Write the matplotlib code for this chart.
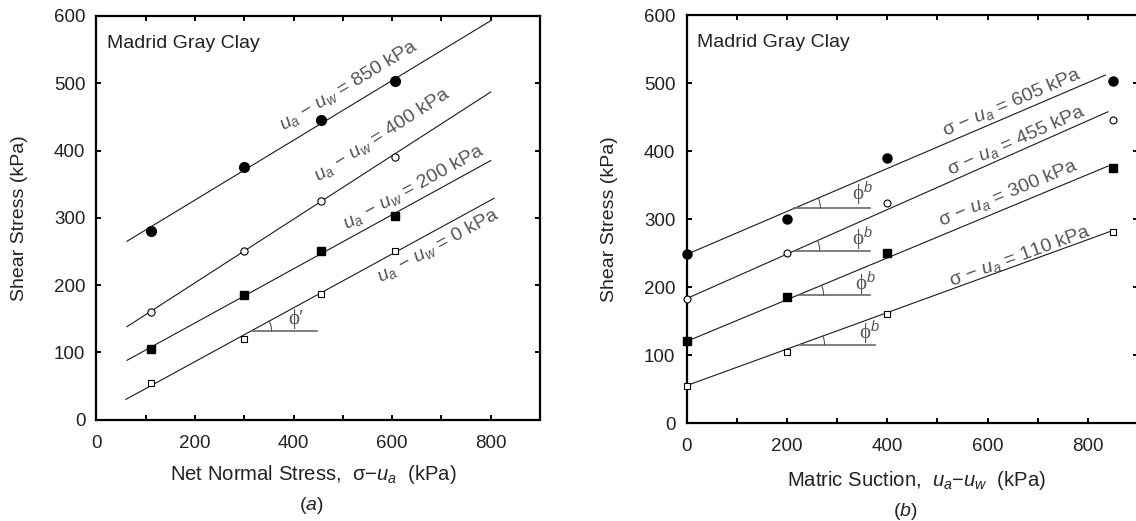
import numpy as np
import matplotlib
matplotlib.use("Agg")
import matplotlib.pyplot as plt

plt.rcParams['font.family'] = ['Liberation Sans', 'DejaVu Sans']
plt.rcParams['mathtext.fontset'] = 'custom'
plt.rcParams['mathtext.rm'] = 'Liberation Sans'
plt.rcParams['mathtext.it'] = 'Liberation Sans:italic'
plt.rcParams['mathtext.bf'] = 'Liberation Sans:bold'

# ---- (a) shear stress vs net normal stress, one series per matric suction ----
net_normal = [110, 300, 455, 605]
tau_suc850 = [281, 375, 446, 503]
tau_suc400 = [160, 250, 325, 391]
tau_suc200 = [105, 185, 250, 302]
tau_suc0 = [55, 120, 187, 250]

# failure envelopes (start/end of each fitted line)
env_a_x = [62, 800]
env_a_x0 = [60, 807]
env_suc850 = [265, 593]
env_suc400 = [138, 487]
env_suc200 = [88, 385]
env_suc0 = [30, 329]

# ---- (b) shear stress vs matric suction, one series per net normal stress ----
suction = [0, 200, 400, 850]
tau_net605 = [248, 300, 390, 504]
tau_net455 = [183, 250, 324, 446]
tau_net300 = [120, 186, 250, 375]
tau_net110 = [55, 105, 160, 281]

env_b_x605 = [0, 835]
env_b_x455 = [0, 840]
env_b_x300 = [0, 840]
env_b_x110 = [0, 845]
env_net605 = [248, 512]
env_net455 = [183, 458]
env_net300 = [120, 378]
env_net110 = [55, 282]

labels_a = ["850", "400", "200", "0"]
labels_b = ["605", "455", "300", "110"]

W, H = 1136, 521
fig = plt.figure(figsize=(W / 100, H / 100), dpi=100)


def px_axes(x0, x1, ytop, ybot):
    return fig.add_axes([x0 / W, (H - ybot) / H, (x1 - x0) / W, (ybot - ytop) / H])


ax_a = px_axes(96.4, 540, 16, 419.5)
ax_b = px_axes(686.5, 1138, 15.3, 423)

TXT = '#222222'
LBL = '#555555'
FS = 14

for ax in (ax_a, ax_b):
    ax.set_xlim(0, 900)
    ax.set_ylim(0, 600)
    ax.set_xticks(np.arange(0, 901, 100))
    ax.set_xticklabels([str(v) if v % 200 == 0 and v < 900 else '' for v in range(0, 901, 100)])
    ax.set_yticks(np.arange(0, 601, 100))
    ax.tick_params(direction='in', length=3.8, width=1.4, top=True, right=True,
                   labelsize=13.5, colors='black', labelcolor=TXT)
    ax.tick_params(axis='x', pad=11)
    ax.tick_params(axis='y', pad=8)
    for s in ax.spines.values():
        s.set_linewidth(1.6)
    ax.set_ylabel('Shear Stress (kPa)', fontsize=FS, color=TXT, ha='center', va='center')
    ax.text(0.024, 0.933, 'Madrid Gray Clay', transform=ax.transAxes, fontsize=FS,
            color=TXT, ha='left', va='center')

ax_a.yaxis.set_label_coords(-0.173, 0.5)
ax_b.yaxis.set_label_coords(-0.170, 0.5)

ax_a.set_xlabel('Net Normal Stress,  σ−$u_a$  (kPa)', fontsize=14.6, color=TXT, va='center')
ax_a.xaxis.set_label_coords(0.49, -0.1375)
ax_b.set_xlabel('Matric Suction,  $u_a$−$u_w$  (kPa)', fontsize=14.6, color=TXT, va='center')
ax_b.xaxis.set_label_coords(0.51, -0.140)

fig.text(311 / W, 1 - 505 / H, '($a$)', fontsize=FS, color=TXT, ha='center', va='center')
fig.text(905.6 / W, 1 - 512 / H, '($b$)', fontsize=FS, color=TXT, ha='center', va='center')


def px_angle(ax, xs, ys):
    p0 = ax.transData.transform((xs[0], ys[0]))
    p1 = ax.transData.transform((xs[1], ys[1]))
    return np.degrees(np.arctan2(p1[1] - p0[1], p1[0] - p0[0]))


def slope_marker(ax, xs, ys, y_h, x_end, r_px, txt, txt_xy):
    # horizontal reference line from the envelope, an arc for the angle and its label
    k = (ys[1] - ys[0]) / (xs[1] - xs[0])
    x_h = xs[0] + (y_h - ys[0]) / k
    ax.plot([x_h, x_end], [y_h, y_h], color='#6a6a6a', lw=1.2, zorder=2)
    ang = np.radians(px_angle(ax, xs, ys))
    c = ax.transData.transform((x_h, y_h))
    t = np.linspace(0, ang, 30)
    pts = np.column_stack([c[0] + r_px * np.cos(t), c[1] + r_px * np.sin(t)])
    dpts = ax.transData.inverted().transform(pts)
    ax.plot(dpts[:, 0], dpts[:, 1], color='#555555', lw=0.8, zorder=2)
    ax.text(txt_xy[0], txt_xy[1], txt, fontsize=15, color=LBL, ha='center', va='center',
            family=['Liberation Serif', 'DejaVu Serif'])


# ---------------- panel (a) ----------------
series_a = [tau_suc850, tau_suc400, tau_suc200, tau_suc0]
envs_a = [(env_a_x, env_suc850), (env_a_x, env_suc400), (env_a_x, env_suc200), (env_a_x0, env_suc0)]
styles = [dict(marker='o', ms=7.0, mfc='black', mec='black'),
          dict(marker='o', ms=5.2, mfc='white', mec='black', mew=0.8),
          dict(marker='s', ms=6.0, mfc='black', mec='black'),
          dict(marker='s', ms=4.8, mfc='white', mec='black', mew=0.8)]
text_a = [(512, 497), (579, 424), (643, 346), (693, 258)]

for ys, (ex, ey), st, lab, tp in zip(series_a, envs_a, styles, labels_a, text_a):
    ax_a.plot(ex, ey, color='#1a1a1a', lw=0.8, zorder=2)
    ax_a.plot(net_normal, ys, ls='none', zorder=3, clip_on=False, **st)
    rot = px_angle(ax_a, ex, ey)
    ax_a.text(tp[0], tp[1], f'$u_a$ − $u_w$ = {lab} kPa', fontsize=FS, color=LBL,
              rotation=rot, rotation_mode='anchor', ha='center', va='center')

slope_marker(ax_a, env_a_x0, env_suc0, 132, 447, 20, 'ϕ′', (405, 150))

# ---------------- panel (b) ----------------
series_b = [tau_net605, tau_net455, tau_net300, tau_net110]
envs_b = [(env_b_x605, env_net605), (env_b_x455, env_net455),
          (env_b_x300, env_net300), (env_b_x110, env_net110)]
styles_b = [dict(marker='o', ms=6.5, mfc='black', mec='black'),
            dict(marker='o', ms=5.0, mfc='white', mec='black', mew=0.8),
            dict(marker='s', ms=5.8, mfc='black', mec='black'),
            dict(marker='s', ms=4.6, mfc='white', mec='black', mew=0.8)]
text_b = [(649, 471), (656, 416), (640, 338), (664, 246)]

for ys, (ex, ey), st, lab, tp in zip(series_b, envs_b, styles_b, labels_b, text_b):
    ax_b.plot(ex, ey, color='#1a1a1a', lw=0.8, zorder=2)
    ax_b.plot(suction, ys, ls='none', zorder=4, clip_on=False, **st)
    rot = px_angle(ax_b, ex, ey)
    ax_b.text(tp[0], tp[1], f'σ − $u_a$ = {lab} kPa', fontsize=FS, color=LBL,
              rotation=rot, rotation_mode='anchor', ha='center', va='center')

slope_marker(ax_b, env_b_x605, env_net605, 316, 365, 26, 'ϕ$^b$', (351, 337))
slope_marker(ax_b, env_b_x455, env_net455, 253, 365, 26, 'ϕ$^b$', (351, 271))
slope_marker(ax_b, env_b_x300, env_net300, 188, 365, 26, 'ϕ$^b$', (356, 205))
slope_marker(ax_b, env_b_x110, env_net110, 115, 376, 26, 'ϕ$^b$', (365, 132))

fig.savefig('out.png', dpi=100)
